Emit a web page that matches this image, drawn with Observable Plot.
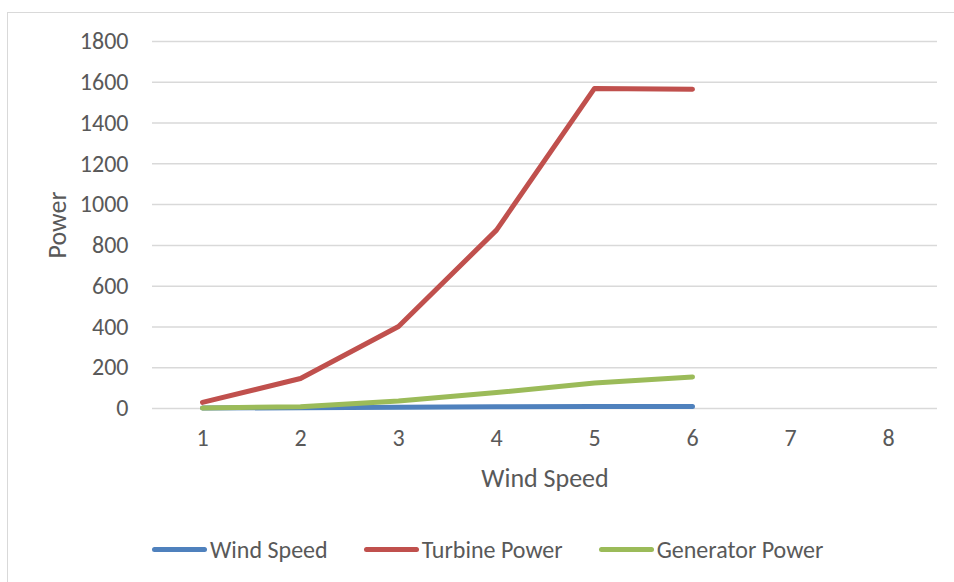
<!DOCTYPE html>
<html><head><meta charset="utf-8">
<script src="https://cdn.jsdelivr.net/npm/d3@7"></script>
<script src="https://cdn.jsdelivr.net/npm/@observablehq/plot@0.6"></script>
<style>
body{margin:0;background:#fff;}
#wrap{position:relative;width:954px;height:582px;overflow:hidden;font-family:Carlito,"Liberation Sans Narrow","Liberation Sans",sans-serif;color:#595959;}
#frame{position:absolute;left:7px;top:12px;width:1000px;height:700px;border:1px solid #d9d9d9;box-sizing:border-box;}
#chart{position:absolute;left:0;top:0;}
#legend{position:absolute;top:535px;left:152px;display:flex;align-items:center;font-size:24px;white-space:nowrap;}
.item{display:flex;align-items:center;margin-right:36px;}
.sw{display:inline-block;width:55px;height:5px;border-radius:3px;margin-right:3px;}
</style>
</head><body>
<div id="wrap"><div id="frame"></div><div id="chart"></div><div id="legend"></div></div>
<script>
const categories = [1, 2, 3, 4, 5, 6, 7, 8];
const seriesNames = ["Wind Speed", "Turbine Power", "Generator Power"];
const seriesColors = ["#4f81bd", "#c0504d", "#9bbb59"];
const windSpeed = [2, 4, 6, 8, 10, 10];
const turbinePower = [30, 147, 402, 875, 1570, 1566];
const generatorPower = [2, 9, 37, 78, 125, 155];
const yTicks = [0, 200, 400, 600, 800, 1000, 1200, 1400, 1600, 1800];

const seriesValues = [windSpeed, turbinePower, generatorPower];
const rows = s => seriesValues[s].map((v, i) => ({x: categories[i], y: v, series: seriesNames[s]}));

const font = 'Carlito, "Liberation Sans Narrow", "Liberation Sans", sans-serif';
const chart = Plot.plot({
  width: 954,
  height: 500,
  marginLeft: 152,
  marginRight: 17,
  marginTop: 41,
  marginBottom: 92,
  style: {fontFamily: font, color: "#595959", background: "transparent", overflow: "visible", fontSize: "26px"},
  x: {type: "point", domain: categories, padding: 0.5},
  y: {domain: [0, 1800]},
  marks: [
    Plot.gridY(yTicks, {stroke: "#d9d9d9", strokeOpacity: 1, strokeWidth: 1.5}),
    Plot.axisY(yTicks, {tickSize: 0, tickPadding: 24, fontSize: 24, fill: "#595959", tickFormat: d3.format("d"),
      label: null}),
    Plot.axisX(categories, {tickSize: 0, tickPadding: 20, fontSize: 24, fill: "#595959",
      label: null}),
    Plot.text(["Power"], {frameAnchor: "left", dx: -95, rotate: -90, textAnchor: "middle", lineAnchor: "middle", fontSize: 26, fill: "#595959"}),
    Plot.text(["Wind Speed"], {frameAnchor: "bottom", dy: 70, lineAnchor: "middle", fontSize: 26, fill: "#595959"}),
    ...[0, 1, 2].map(s => Plot.line(rows(s), {x: "x", y: "y", stroke: seriesColors[s],
      strokeWidth: 5, strokeLinecap: "round", strokeLinejoin: "round"}))
  ]
});
document.getElementById("chart").appendChild(chart);

const legend = document.getElementById("legend");
seriesNames.forEach((n, i) => {
  const it = document.createElement("div");
  it.className = "item";
  it.innerHTML = `<span class="sw" style="background:${seriesColors[i]}"></span><span>${n}</span>`;
  legend.appendChild(it);
});
</script>
</body></html>
